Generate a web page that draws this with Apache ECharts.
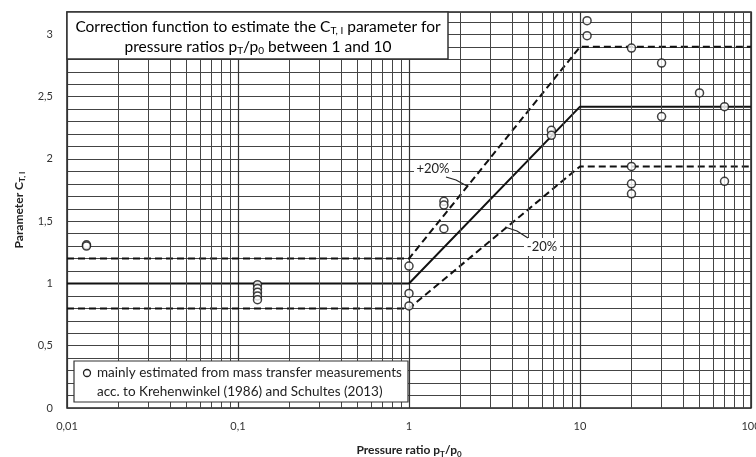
<!DOCTYPE html>
<html><head><meta charset="utf-8">
<script src="https://cdn.jsdelivr.net/npm/echarts@6/dist/echarts.min.js"></script>
<style>html,body{margin:0;padding:0;background:#fff}#c{width:756px;height:457px}</style>
</head><body><div id="c"></div>
<script>
// ---- data ----
const xTickLabels = ['0,01', '0,1', '1', '10', '100'];
const yTickLabels = ['0', '0,5', '1', '1,5', '2', '2,5', '3'];
const lineX = [0.01, 1, 10, 100];
const centralY = [1, 1, 2.42, 2.42];
const plus20Y = [1.2, 1.2, 2.9, 2.9];
const minus20Y = [0.8, 0.8, 1.94, 1.94];
const pointX = [0.013, 0.013, 0.13, 0.13, 0.13, 0.13, 0.13, 1, 1, 1, 1.6, 1.6, 1.6, 6.8, 6.8, 11, 11, 20, 20, 20, 20, 30, 30, 50, 70, 70];
const pointY = [1.31, 1.30, 0.99, 0.96, 0.93, 0.90, 0.87, 1.14, 0.92, 0.82, 1.66, 1.63, 1.44, 2.23, 2.19, 3.11, 2.99, 2.89, 1.94, 1.80, 1.72, 2.77, 2.34, 2.53, 2.42, 1.82];
const minorGridX = [0.02,0.03,0.04,0.05,0.06,0.07,0.08,0.09,0.2,0.3,0.4,0.5,0.6,0.7,0.8,0.9,2,3,4,5,6,7,8,9,20,30,40,50,60,70,80,90];

const FONT = 'Lato';
const pair = (xs, ys) => xs.map((x, i) => [x, ys[i]]);
const chart = echarts.init(document.getElementById('c'), null, {renderer: 'canvas'});
const subRich = {
  b: {fontFamily: FONT, fontSize: 12, fontWeight: 'bold', color: '#222', lineHeight: 16},
  s: {fontFamily: FONT, fontSize: 8, fontWeight: 'bold', color: '#222', lineHeight: 8, verticalAlign: 'bottom'}
};
const titleRich = {
  t: {fontFamily: FONT, fontSize: 15.5, color: '#111', lineHeight: 18},
  s: {fontFamily: FONT, fontSize: 10, color: '#111', lineHeight: 9, verticalAlign: 'bottom'}
};
chart.setOption({
  animation: false,
  backgroundColor: '#fff',
  grid: {left: 67, right: 5, top: 12, bottom: 49, outerBoundsMode: 'none', containLabel: false,
    show: true, borderColor: '#222', borderWidth: 1.5, backgroundColor: 'transparent'},
  xAxis: {
    type: 'log', logBase: 10, min: 0.01, max: 100,
    axisLine: {show: false}, axisTick: {show: false},
    axisLabel: {fontFamily: FONT, fontSize: 11, color: '#333', margin: 13,
      formatter: (v, i) => xTickLabels[i] !== undefined ? xTickLabels[i] : ''},
    splitLine: {show: true, lineStyle: {color: '#333', width: 1.2}},
    name: '{b|Pressure ratio p}{s|T}{b|/p}{s|0}',
    nameLocation: 'middle', nameGap: 34,
    nameTextStyle: {rich: subRich}
  },
  yAxis: {
    type: 'value', min: 0, max: 3.18, interval: 0.1,
    axisLine: {show: false}, axisTick: {show: false},
    axisLabel: {fontFamily: FONT, fontSize: 11, color: '#333', margin: 14,
      formatter: (v, i) => (i % 5 === 0 && yTickLabels[i / 5] !== undefined) ? yTickLabels[i / 5] : ''},
    splitLine: {show: true, lineStyle: {color: '#444', width: 1}},
    name: '{b|Parameter C}{s|T, I}',
    nameLocation: 'middle', nameGap: 40, nameRotate: 90,
    nameTextStyle: {rich: subRich}
  },
  series: [
    {type: 'line', data: [], z: 1, silent: true,
     markLine: {silent: true, symbol: ['none', 'none'], label: {show: false},
       lineStyle: {color: '#444', width: 1, type: 'solid'},
       data: minorGridX.map(x => ({xAxis: x}))}},
    {type: 'line', data: pair(lineX, centralY), showSymbol: false, z: 3,
     lineStyle: {color: '#111', width: 2}},
    {type: 'line', data: pair(lineX, plus20Y), showSymbol: false, z: 3,
     lineStyle: {color: '#111', width: 2, type: [7, 4]}},
    {type: 'line', data: pair(lineX, minus20Y), showSymbol: false, z: 3,
     lineStyle: {color: '#111', width: 2, type: [7, 4]}},
    {type: 'scatter', data: pair(pointX, pointY), z: 5, symbol: 'circle', symbolSize: 8,
     itemStyle: {color: '#fff', borderColor: '#111', borderWidth: 1.5}}
  ],
  graphic: [
    {type: 'rect', shape: {x: 67, y: 12, width: 381, height: 47}, z: 100,
     style: {fill: '#fff', stroke: '#333', lineWidth: 1.5}},
    {type: 'text', x: 258, y: 27, z: 101,
     style: {text: '{t|Correction function to estimate the C}{s|T, I}{t| parameter for}', align: 'center', verticalAlign: 'middle', rich: titleRich}},
    {type: 'text', x: 258, y: 47, z: 101,
     style: {text: '{t|pressure ratios p}{s|T}{t|/p}{s|0}{t| between 1 and 10}', align: 'center', verticalAlign: 'middle', rich: titleRich}},
    {type: 'rect', shape: {x: 74, y: 361, width: 334, height: 41}, z: 100,
     style: {fill: '#fff', stroke: '#333', lineWidth: 1.2}},
    {type: 'circle', shape: {cx: 87, cy: 373, r: 3.5}, z: 101,
     style: {fill: '#fff', stroke: '#222', lineWidth: 1.3}},
    {type: 'text', x: 97, y: 373, z: 101,
     style: {text: 'mainly estimated from mass transfer measurements', font: '13.5px Lato', fill: '#222', verticalAlign: 'middle'}},
    {type: 'text', x: 97, y: 392, z: 101,
     style: {text: 'acc. to Krehenwinkel (1986) and Schultes (2013)', font: '13.5px Lato', fill: '#222', verticalAlign: 'middle'}},
    {type: 'rect', shape: {x: 414, y: 160, width: 38, height: 18}, z: 90, style: {fill: '#fff'}},
    {type: 'text', x: 433, y: 169, z: 101,
     style: {text: '+20%', font: '13px Lato', fill: '#222', align: 'center', verticalAlign: 'middle'}},
    {type: 'polyline', shape: {points: [[446, 177], [456, 180], [467, 186]]}, z: 101,
     style: {stroke: '#222', lineWidth: 1.2, fill: null}},
    {type: 'rect', shape: {x: 524, y: 238, width: 36, height: 18}, z: 90, style: {fill: '#fff'}},
    {type: 'text', x: 542, y: 247, z: 101,
     style: {text: '-20%', font: '13px Lato', fill: '#222', align: 'center', verticalAlign: 'middle'}},
    {type: 'polyline', shape: {points: [[505, 227], [517, 231], [528, 238]]}, z: 101,
     style: {stroke: '#222', lineWidth: 1.2, fill: null}}
  ]
});
</script></body></html>
